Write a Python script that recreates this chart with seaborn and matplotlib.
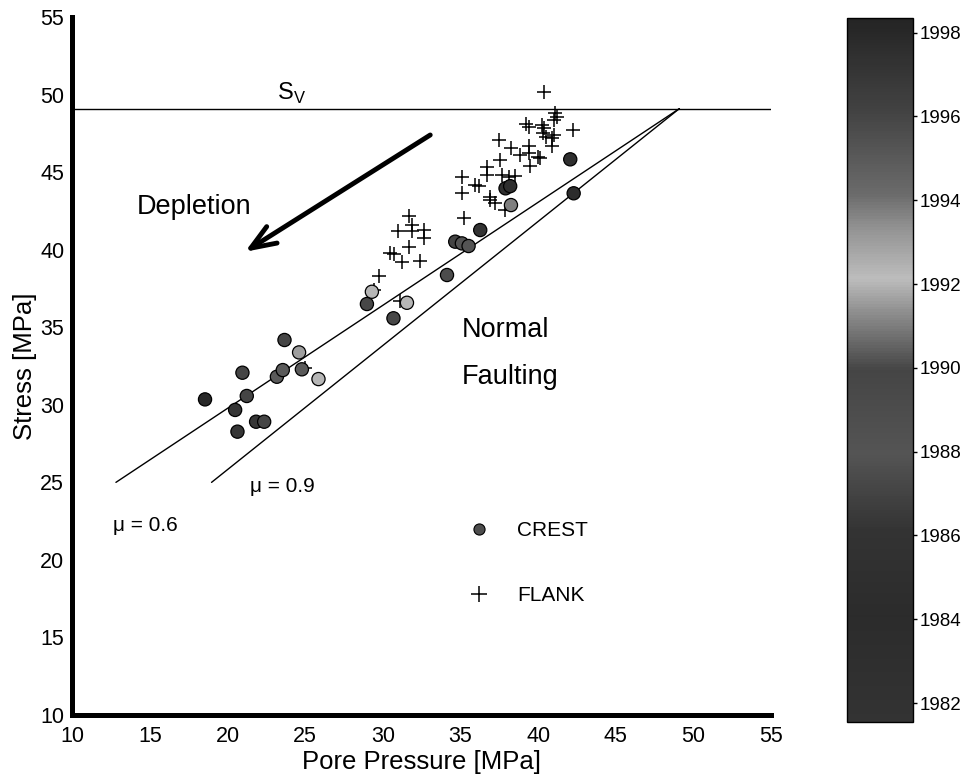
import numpy as np
import pandas as pd
import matplotlib
matplotlib.use("Agg")
import matplotlib.pyplot as plt
import seaborn as sns
from matplotlib.colors import LinearSegmentedColormap, Normalize
from matplotlib.cm import ScalarMappable
from matplotlib.lines import Line2D

# ---------------- data ----------------
crest_pp = [18.54, 20.48, 20.63, 20.95, 21.23, 21.83, 22.35, 23.17, 23.55, 23.66,
            24.60, 24.78, 25.85, 28.97, 29.29, 30.68, 31.55, 34.13, 34.66, 35.09,
            35.52, 36.27, 37.90, 38.20, 38.25, 42.07, 42.29]
crest_stress = [30.35, 29.67, 28.27, 32.07, 30.57, 28.91, 28.91, 31.81, 32.24, 34.18,
                33.38, 32.29, 31.66, 36.50, 37.29, 35.58, 36.58, 38.37, 40.52, 40.41,
                40.24, 41.27, 43.96, 44.10, 42.88, 45.83, 43.64]
crest_year = [1998, 1997, 1997, 1996, 1996, 1997, 1996, 1995, 1995, 1996,
              1993, 1995, 1992, 1990, 1992, 1990, 1992, 1989, 1987, 1988,
              1988, 1986, 1985, 1985, 1991, 1983, 1984]

flank_pp = [25.0, 29.76, 29.4, 31.1, 30.47, 30.69, 31.22, 32.4, 31.65, 31.0,
            31.87, 32.62, 32.62, 31.65, 31.87, 35.2, 35.09, 36.92, 37.24, 37.89,
            40.4, 41.11, 41.0, 41.22, 39.24, 39.39, 40.25, 40.4, 42.22, 41.0,
            40.9, 40.3, 40.5, 37.45, 38.25, 39.39, 39.39, 38.85, 39.97, 40.14,
            40.9, 39.5, 37.52, 36.7, 36.7, 37.67, 38.1, 38.53, 35.09, 35.95,
            36.16, 36.92]
flank_stress = [32.4, 38.3, 37.4, 36.7, 39.77, 39.72, 39.23, 39.27, 40.19, 41.22,
                41.22, 41.27, 40.73, 42.17, 41.6, 42.06, 43.64, 43.2, 42.99, 42.56,
                50.19, 48.79, 48.36, 48.57, 48.1, 47.93, 48.04, 47.83, 47.72, 47.39,
                47.18, 47.5, 47.25, 47.07, 46.54, 46.69, 46.22, 46.1, 46.0, 45.9,
                46.69, 45.4, 45.78, 45.35, 44.82, 44.82, 44.7, 44.75, 44.7, 44.17,
                44.1, 43.42]

sv_pp = [10.0, 55.0]
sv_stress = [49.07, 49.07]
mu06_pp = [12.8, 49.1]
mu06_stress = [25.0, 49.1]
mu09_pp = [18.96, 49.1]
mu09_stress = [25.0, 49.1]

x_ticks = [10, 15, 20, 25, 30, 35, 40, 45, 50, 55]
y_ticks = [10, 15, 20, 25, 30, 35, 40, 45, 50, 55]
cbar_ticks = [1982, 1984, 1986, 1988, 1990, 1992, 1994, 1996, 1998]
year_range = (1981.55, 1998.35)

# ---------------- style ----------------
sns.set_style("white")
plt.rcParams["font.family"] = ["Liberation Sans", "DejaVu Sans"]
plt.rcParams.update({"text.color": "black", "axes.labelcolor": "black",
                     "xtick.color": "black", "ytick.color": "black",
                     "axes.edgecolor": "black"})

crest_df = pd.DataFrame({"pp": crest_pp, "stress": crest_stress, "year": crest_year})
flank_df = pd.DataFrame({"pp": flank_pp, "stress": flank_stress})

grey_stops = [(0.0, 0.20), (0.15, 0.17), (0.27, 0.20), (0.38, 0.33), (0.50, 0.27),
              (0.58, 0.55), (0.63, 0.74), (0.70, 0.58), (0.75, 0.42), (0.87, 0.26),
              (1.0, 0.14)]
cmap = LinearSegmentedColormap.from_list(
    "yr", [(p, (g, g, g)) for p, g in grey_stops])
norm = Normalize(*year_range)

fig = plt.figure(figsize=(9.65, 7.78), dpi=100)
ax = fig.add_axes([0.0751, 0.081, 0.7238, 0.897])

sns.lineplot(x=sv_pp, y=sv_stress, ax=ax, color="black", lw=1.0, sort=False, estimator=None)
sns.lineplot(x=mu06_pp, y=mu06_stress, ax=ax, color="black", lw=1.0, sort=False, estimator=None)
sns.lineplot(x=mu09_pp, y=mu09_stress, ax=ax, color="black", lw=1.0, sort=False, estimator=None)

sns.scatterplot(data=flank_df, x="pp", y="stress", ax=ax, marker="+", s=110,
                color="black", linewidth=1.1, legend=False, zorder=3)
sns.scatterplot(data=crest_df, x="pp", y="stress", hue="year", palette=cmap,
                hue_norm=norm, ax=ax, s=90, edgecolor="black", linewidth=0.9,
                legend=False, zorder=4)

ax.set_xlim(10, 55)
ax.set_ylim(10, 55)
ax.set_xticks(x_ticks)
ax.set_yticks(y_ticks)
ax.tick_params(axis="both", direction="in", length=4, width=3, labelsize=15.5)
ax.tick_params(axis="x", pad=8)
ax.tick_params(axis="y", pad=6)
for s in ["top", "right"]:
    ax.spines[s].set_visible(False)
for s in ["left", "bottom"]:
    ax.spines[s].set_linewidth(3.6)
ax.set_xlabel("Pore Pressure [MPa]", fontsize=18.5, labelpad=2)
ax.set_ylabel("Stress [MPa]", fontsize=18.5, labelpad=2)

# annotations
ax.text(23.2, 49.25, r"S$_\mathregular{V}$", fontsize=17, ha="left", va="bottom")
ax.text(14.16, 42.75, "Depletion", fontsize=19.5, ha="left", va="center")
ax.annotate("", xy=(21.12, 39.87), xytext=(33.05, 47.4),
            arrowprops=dict(arrowstyle="->,head_length=0.9,head_width=0.35",
                            lw=3.5, color="black", mutation_scale=20,
                            shrinkA=0, shrinkB=0))
ax.text(35.09, 34.82, "Normal", fontsize=19.5, ha="left", va="center")
ax.text(35.09, 31.81, "Faulting", fontsize=19.5, ha="left", va="center")
ax.text(12.6, 22.25, "\u03bc = 0.6", fontsize=15, ha="left", va="center")
ax.text(21.44, 24.72, "\u03bc = 0.9", fontsize=15, ha="left", va="center")

handles = [Line2D([], [], ls="none", marker="o", ms=8, mfc="0.3", mec="black", mew=0.8),
           Line2D([], [], ls="none", marker="+", ms=11, mec="black", mew=1.1)]
ax.legend(handles, ["CREST", "FLANK"], loc="center left",
          bbox_to_anchor=(0.567, 0.2173), frameon=False, fontsize=15,
          handlelength=1.0, handletextpad=1.35, labelspacing=2.2,
          borderpad=0, borderaxespad=0)

# colorbar
cax = fig.add_axes([0.8777, 0.072, 0.0684, 0.905])
sm = ScalarMappable(norm=norm, cmap=cmap)
cb = fig.colorbar(sm, cax=cax)
cb.set_ticks(cbar_ticks)
cb.ax.tick_params(labelsize=13.5, length=3, width=1, pad=2)
cb.outline.set_linewidth(1.0)

fig.savefig("out.png", dpi=100)
